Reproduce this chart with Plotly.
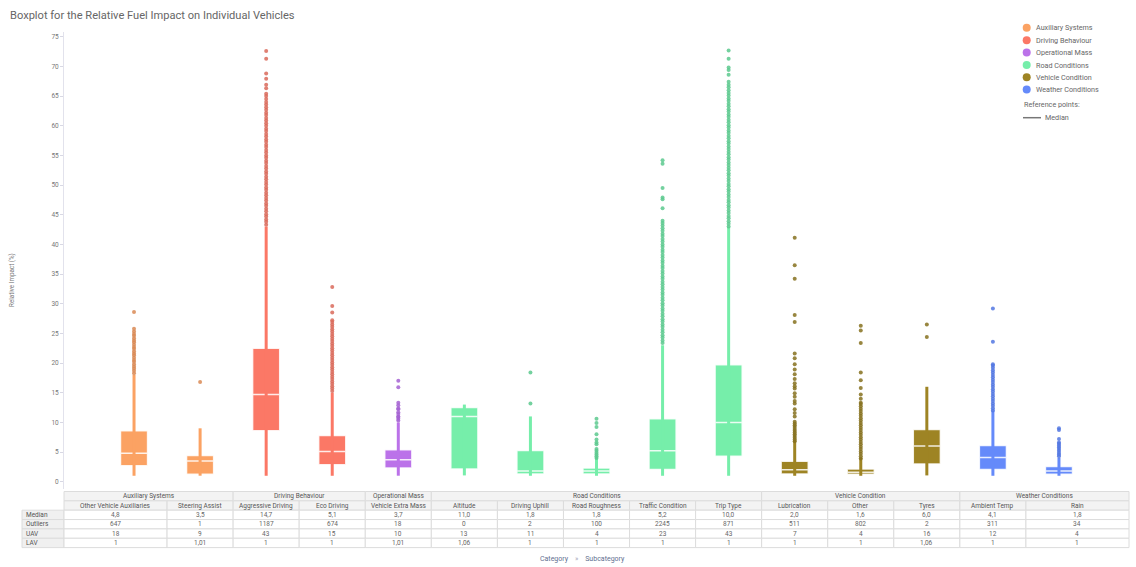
import plotly.graph_objects as go

# subcategories (one box each) and the category they belong to
subcats = ["Other Vehicle Auxiliaries", "Steering Assist", "Aggressive Driving", "Eco Driving",
           "Vehicle Extra Mass", "Altitude", "Driving Uphill", "Road Roughness", "Traffic Condition",
           "Trip Type", "Lubrication", "Other", "Tyres", "Ambient Temp", "Rain"]
category = ["Auxiliary Systems", "Auxiliary Systems", "Driving Behaviour", "Driving Behaviour",
            "Operational Mass", "Road Conditions", "Road Conditions", "Road Conditions",
            "Road Conditions", "Road Conditions", "Vehicle Condition", "Vehicle Condition",
            "Vehicle Condition", "Weather Conditions", "Weather Conditions"]

median = [4.8, 3.5, 14.7, 5.1, 3.7, 11.0, 1.8, 1.8, 5.2, 10.0, 2.0, 1.6, 6.0, 4.1, 1.8]
q1 = [2.7, 1.25, 8.6, 2.85, 2.3, 2.15, 1.3, 1.3, 2.05, 4.3, 1.3, 1.25, 3.0, 2.05, 1.25]
q3 = [8.6, 4.4, 22.5, 7.8, 5.4, 12.5, 5.25, 2.3, 10.6, 19.7, 3.45, 2.15, 8.8, 6.1, 2.55]
uav = [18, 9, 43, 15, 10, 13, 11, 4, 23, 43, 7, 4, 16, 12, 4]
lav = [1, 1.01, 1, 1, 1.01, 1.06, 1, 1, 1, 1, 1, 1, 1.06, 1, 1]
n_outliers = [647, 1, 1187, 674, 18, 0, 2, 100, 2245, 871, 511, 802, 2, 311, 34]

# outlier values (dense runs estimated)
out_ova = [18.3, 18.7, 19.1, 19.4, 19.8, 20.2, 20.5, 20.9, 21.3, 21.6, 22.0, 22.4, 22.7, 23.1,
           23.5, 23.8, 24.2, 24.6, 24.9, 25.3, 25.8, 28.6]
out_sa = [16.8]
out_ad = [43.3, 43.8, 44.2, 44.7, 45.1, 45.6, 46.0, 46.5, 46.9, 47.4, 47.8, 48.3, 48.7, 49.2,
          49.6, 50.1, 50.5, 51.0, 51.4, 51.9, 52.3, 52.8, 53.2, 53.7, 54.1, 54.6, 55.0, 55.5,
          55.9, 56.4, 56.8, 57.3, 57.7, 58.2, 58.6, 59.1, 59.5, 60.0, 60.4, 60.9, 61.3, 61.8,
          62.2, 62.7, 63.1, 63.6, 64.0, 64.5, 65.0, 65.4, 66.3, 66.9, 67.9, 68.8, 71.3, 72.6]
out_ed = [15.3, 15.7, 16.1, 16.5, 16.9, 17.3, 17.7, 18.1, 18.5, 18.9, 19.3, 19.7, 20.1, 20.5,
          20.9, 21.3, 21.7, 22.1, 22.5, 22.9, 23.3, 23.7, 24.1, 24.5, 24.9, 25.3, 25.7, 26.1,
          26.5, 26.9, 27.2, 28.5, 29.6, 32.8]
out_vem = [10.3, 10.6, 10.9, 11.0, 11.4, 11.7, 12.2, 12.4, 12.9, 13.3, 15.9, 17.0]
out_alt = []
out_du = [13.2, 18.4]
out_rr = [4.0, 4.3, 4.6, 4.9, 5.2, 5.5, 6.3, 6.6, 7.1, 8.0, 9.2, 9.9, 10.6]
out_tc = [23.4, 23.8, 24.3, 24.7, 25.2, 25.6, 26.1, 26.5, 27.0, 27.4, 27.9, 28.3, 28.8, 29.2,
          29.7, 30.1, 30.6, 31.0, 31.5, 31.9, 32.4, 32.8, 33.3, 33.7, 34.2, 34.6, 35.1, 35.5,
          36.0, 36.4, 36.9, 37.3, 37.8, 38.2, 38.7, 39.1, 39.6, 40.0, 40.5, 40.9, 41.4, 41.8,
          42.3, 42.7, 43.2, 43.6, 44.0, 46.1, 47.6, 47.9, 49.5, 53.6, 54.2]
out_tt = [43.0, 43.5, 43.9, 44.4, 44.8, 45.3, 45.7, 46.2, 46.6, 47.1, 47.5, 48.0, 48.4, 48.9,
          49.3, 49.8, 50.2, 50.7, 51.1, 51.6, 52.0, 52.5, 52.9, 53.4, 53.8, 54.3, 54.7, 55.2,
          55.6, 56.1, 56.5, 57.0, 57.4, 57.9, 58.3, 58.8, 59.2, 59.7, 60.1, 60.6, 61.0, 61.5,
          61.9, 62.4, 62.8, 63.3, 63.7, 64.2, 64.6, 65.1, 65.5, 66.0, 66.5, 66.9, 67.4, 68.6,
          69.4, 69.8, 71.3, 72.7]
out_lub = [6.8, 7.1, 7.4, 7.7, 8.0, 8.3, 8.6, 8.9, 9.2, 9.5, 9.8, 10.1, 11.0, 11.6, 12.2, 13.2,
           13.6, 14.3, 14.9, 15.7, 16.1, 16.6, 17.3, 18.1, 18.9, 19.8, 20.8, 21.6, 26.9, 28.1,
           34.2, 36.5, 41.1]
out_oth = [3.9, 4.3, 4.7, 5.1, 5.5, 5.9, 6.3, 6.7, 7.1, 7.5, 7.9, 8.3, 8.7, 9.1, 9.5, 9.9, 10.3,
           10.7, 11.1, 11.5, 11.9, 12.3, 12.7, 13.1, 13.3, 14.0, 14.7, 15.8, 17.1, 18.4, 23.4,
           25.5, 26.3]
out_ty = [24.4, 26.5]
out_at = [12.0, 12.4, 12.8, 13.2, 13.6, 14.0, 14.4, 14.8, 15.2, 15.6, 16.0, 16.4, 16.8, 17.2,
          17.6, 18.0, 18.4, 18.8, 19.2, 19.6, 19.8, 23.6, 29.2]
out_rain = [4.3, 4.6, 4.9, 5.2, 5.5, 5.8, 6.1, 6.4, 6.6, 7.2, 8.7, 9.0]
outliers = [out_ova, out_sa, out_ad, out_ed, out_vem, out_alt, out_du, out_rr, out_tc, out_tt,
            out_lub, out_oth, out_ty, out_at, out_rain]

cat_order = ["Auxiliary Systems", "Driving Behaviour", "Operational Mass", "Road Conditions",
             "Vehicle Condition", "Weather Conditions"]
colors = {"Auxiliary Systems": "#FBA263", "Driving Behaviour": "#FB7866",
          "Operational Mass": "#BB72E9", "Road Conditions": "#76EEAA",
          "Vehicle Condition": "#9E8424", "Weather Conditions": "#658AFA"}
dot_colors = {"Auxiliary Systems": "#D98A55", "Driving Behaviour": "#D96A5A",
              "Operational Mass": "#A562D2", "Road Conditions": "#5CC98E",
              "Vehicle Condition": "#86711F", "Weather Conditions": "#5277E2"}

W, H = 1136, 567
ML, MR, MT, MB = 64, 7, 32, 78
XR = [-1.06, 15.06]
YR = [-1.23, 75.8]
FONT = "Roboto"


def px_x(p):
    return (p - ML) / (W - ML - MR)


def px_y(p):
    return (H - MB - p) / (H - MT - MB)


def data_x(x):
    return (x - XR[0]) / (XR[1] - XR[0])


fig = go.Figure()

# whiskers first so the boxes sit on top
for cat in cat_order:
    idx = [i for i, c in enumerate(category) if c == cat]
    xs, ys = [], []
    for i in idx:
        xs += [i, i, None]
        ys += [lav[i], uav[i], None]
    fig.add_trace(go.Scatter(x=xs, y=ys, mode="lines", line=dict(color=colors[cat], width=3),
                             showlegend=False, hoverinfo="skip"))

for cat in cat_order:
    idx = [i for i, c in enumerate(category) if c == cat]
    fig.add_trace(go.Box(
        x=idx, q1=[q1[i] for i in idx], median=[median[i] for i in idx], q3=[q3[i] for i in idx],
        lowerfence=[q1[i] for i in idx], upperfence=[q3[i] for i in idx],
        width=0.41, fillcolor=colors[cat], boxpoints=False,
        line=dict(color="rgba(255,255,255,0.85)", width=1.5),
        name=cat, showlegend=False))

for cat in cat_order:
    idx = [i for i, c in enumerate(category) if c == cat]
    xs, ys = [], []
    for i in idx:
        xs += [i] * len(outliers[i])
        ys += outliers[i]
    fig.add_trace(go.Scatter(x=xs, y=ys, mode="markers",
                             marker=dict(color=dot_colors[cat], size=4, opacity=0.85),
                             showlegend=False, hoverinfo="skip"))

shapes = []
annotations = []

# ---- table under the chart ----
GRID = "#dcdcdc"
top, rh = 491.5, 9.35
edges = [0] + [data_x(i + 0.5) for i in range(len(subcats) - 1)] + [1]


def cell(x0, x1, r, fill):
    shapes.append(dict(type="rect", xref="paper", yref="paper", x0=x0, x1=x1,
                       y0=px_y(top + (r + 1) * rh), y1=px_y(top + r * rh),
                       fillcolor=fill, line=dict(color=GRID, width=1), layer="above"))


def text(x, r, s, anchor="center", color="#666"):
    annotations.append(dict(x=x, y=px_y(top + (r + 0.5) * rh), xref="paper", yref="paper",
                            text=s, showarrow=False, xanchor=anchor, yanchor="middle",
                            font=dict(size=6.5, color=color, family=FONT)))


# category header
start = 0
for i in range(1, len(subcats) + 1):
    if i == len(subcats) or category[i] != category[start]:
        cell(edges[start], edges[i], 0, "#f3f3f3")
        text((edges[start] + edges[i]) / 2, 0, category[start], color="#555")
        start = i

for i, s in enumerate(subcats):
    cell(edges[i], edges[i + 1], 1, "#f3f3f3")
    text((edges[i] + edges[i + 1]) / 2, 1, s, color="#555")


def fmt(v):
    return f"{v:g}".replace(".", ",")


table_rows = [("Median", [f"{v:.1f}".replace(".", ",") for v in median]),
              ("Outliers", [str(v) for v in n_outliers]),
              ("UAV", [fmt(v) for v in uav]),
              ("LAV", [fmt(v) for v in lav])]
for r, (label, vals) in enumerate(table_rows, start=2):
    cell(px_x(22), 0, r, "#f0f0f0")
    text(px_x(24), r, label, anchor="left", color="#555")
    for i, v in enumerate(vals):
        cell(edges[i], edges[i + 1], r, "white")
        text((edges[i] + edges[i + 1]) / 2, r, v)

annotations.append(dict(x=px_x(582), y=px_y(558.5), xref="paper", yref="paper", showarrow=False,
                        xanchor="center", yanchor="middle",
                        text="Category &nbsp;&nbsp;&nbsp;<span style='color:#aab'>»</span>&nbsp;&nbsp;&nbsp; Subcategory",
                        font=dict(size=7, color="#5f6f90", family=FONT)))

# ---- legend ----
leg_y = [27.8, 40.2, 52.6, 65.0, 77.2, 89.4]
for cat, yy in zip(cat_order, leg_y):
    shapes.append(dict(type="circle", xref="paper", yref="paper",
                       x0=px_x(1022.7), x1=px_x(1030.7), y0=px_y(yy + 4), y1=px_y(yy - 4),
                       fillcolor=colors[cat], line=dict(width=0)))
    annotations.append(dict(x=px_x(1034), y=px_y(yy), xref="paper", yref="paper", text=cat,
                            showarrow=False, xanchor="left", yanchor="middle",
                            font=dict(size=7.2, color="#666", family=FONT)))
annotations.append(dict(x=px_x(1022), y=px_y(104.3), xref="paper", yref="paper",
                        text="Reference points:", showarrow=False, xanchor="left",
                        yanchor="middle", font=dict(size=7.2, color="#666", family=FONT)))
shapes.append(dict(type="line", xref="paper", yref="paper", x0=px_x(1023), x1=px_x(1041),
                   y0=px_y(117.7), y1=px_y(117.7), line=dict(color="#777", width=1.5)))
annotations.append(dict(x=px_x(1043), y=px_y(117.7), xref="paper", yref="paper", text="Median",
                        showarrow=False, xanchor="left", yanchor="middle",
                        font=dict(size=7.2, color="#666", family=FONT)))

# y axis title
annotations.append(dict(x=px_x(12), y=px_y(280), xref="paper", yref="paper",
                        text="Relative Impact (%)", showarrow=False, textangle=-90,
                        xanchor="center", yanchor="middle",
                        font=dict(size=6.3, color="#777", family=FONT)))

fig.update_layout(
    width=W, height=H,
    margin=dict(l=ML, r=MR, t=MT, b=MB),
    paper_bgcolor="white", plot_bgcolor="white",
    font=dict(family=FONT, color="#666"),
    title=dict(text="Boxplot for the Relative Fuel Impact on Individual Vehicles",
               x=10 / W, xanchor="left", y=1 - 15 / H, yanchor="middle",
               font=dict(size=11.1, color="#666", family=FONT)),
    xaxis=dict(range=XR, showticklabels=False, showgrid=False, zeroline=False, showline=False,
               ticks=""),
    yaxis=dict(range=YR, dtick=5, tick0=0, ticks="outside", ticklen=3, tickcolor="#d8d8e4",
               showline=True, linecolor="#e2e2ec", linewidth=1, showgrid=False, zeroline=False,
               tickfont=dict(size=6.5, color="#777", family=FONT)),
    shapes=shapes, annotations=annotations,
    showlegend=False,
)

# the page body has a default 8px margin; drop it so the figure fills the window exactly
fig.write_html("out.html", config={"displayModeBar": False},
               post_script="document.body.style.margin = '0px';")
